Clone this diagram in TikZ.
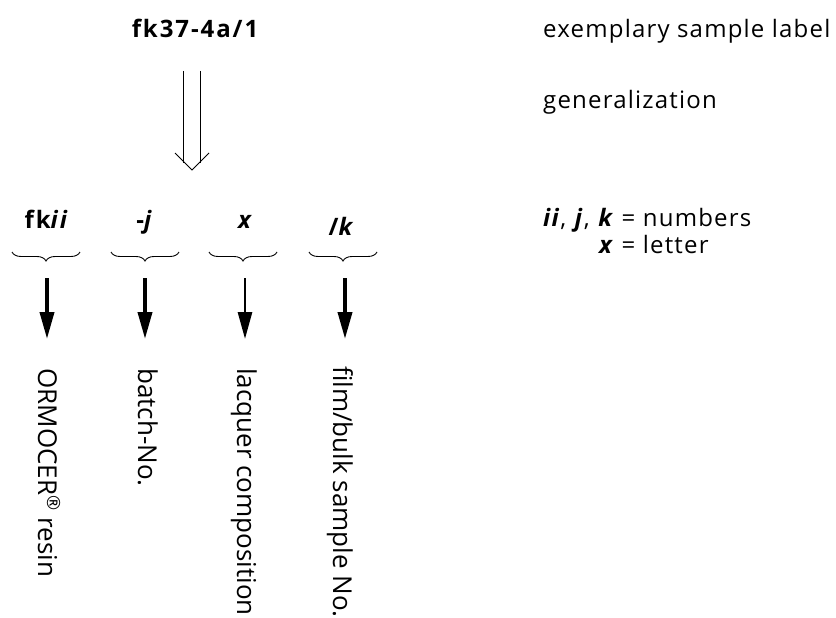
\documentclass[tikz,border=0pt]{standalone}
\usepackage{fontspec}
\setmainfont{Open Sans}
\newfontfamily\spacedfont[LetterSpace=5]{Open Sans}
\newfontfamily\boldspaced[LetterSpace=8]{Open Sans}
\usetikzlibrary{arrows.meta,decorations.pathreplacing}
\tikzset{
  lbl/.style={inner sep=0pt, anchor=base west, font=\spacedfont\fontsize{24}{27}\selectfont},
  part/.style={inner sep=0pt, anchor=base, font=\boldspaced\fontsize{24}{28}\selectfont\bfseries},
  vert/.style={inner sep=0pt, anchor=base west, rotate=-90, font=\fontsize{26}{30}\selectfont},
  brc/.style={decorate, decoration={brace, mirror, amplitude=9pt}, line width=0.9pt},
  bigarrow/.style={-{Triangle[length=27pt,width=14pt]}, line width=3.8pt},
}
\newcommand{\bi}[1]{\textbf{\textit{#1}}}
\begin{document}
\begin{tikzpicture}[x=1pt,y=-1pt]
\useasboundingbox (0,0) rectangle (836,618);
\node[part] (ex) at (195,38) {fk37-4a/1};
\node[lbl] (t1) at (543,38) {exemplary sample label};
\node[lbl] (t2) at (543,108) {generalization};
\node[lbl] (t3) at (543,226) {\begin{tabular}[t]{@{}r@{ }l@{}}\bi{ii}, \bi{j}, \bi{k} & = numbers\\ \bi{x} & = letter\end{tabular}};
% generalization arrow
\coordinate (gA) at (183,71);
\coordinate (gB) at (200,71);
\coordinate (gT) at (192,170);
\draw[line width=1pt] (gA) -- (183,163) (gB) -- (200,163);
\draw[line width=1pt] (175,153) -- (gT) -- (209,153);
% parts
\node[part] (p1) at (47,228) {fk\textit{ii}};
\node[part] (p2) at (145,228) {-\textit{j}};
\node[part] (p3) at (246,228) {\textit{x}};
\node[part] (p4) at (342,235) {/\textit{k}};
% braces
\draw[brc] (12,252) -- (80,252);
\draw[brc] (111,252) -- (179,252);
\draw[brc] (209,252) -- (277,252);
\draw[brc] (309,252) -- (377,252);
% vertical texts
\node[vert] (v1) at (38,368) {ORMOCER\textsuperscript{®} resin};
\node[vert] (v2) at (138,368) {batch-No.};
\node[vert] (v3) at (237,368) {lacquer composition};
\node[vert] (v4) at (333,366) {film/bulk sample No.};
% arrows
\coordinate (a1) at (47,278);
\coordinate (a2) at (145,278);
\coordinate (a3) at (245,278);
\coordinate (a4) at (345,278);
\draw[bigarrow] (a1) -- (47,339);
\draw[bigarrow] (a2) -- (145,339);
\draw[bigarrow, line width=2.8pt] (a3) -- (245,339);
\draw[bigarrow] (a4) -- (345,339);
\end{tikzpicture}
\end{document}
